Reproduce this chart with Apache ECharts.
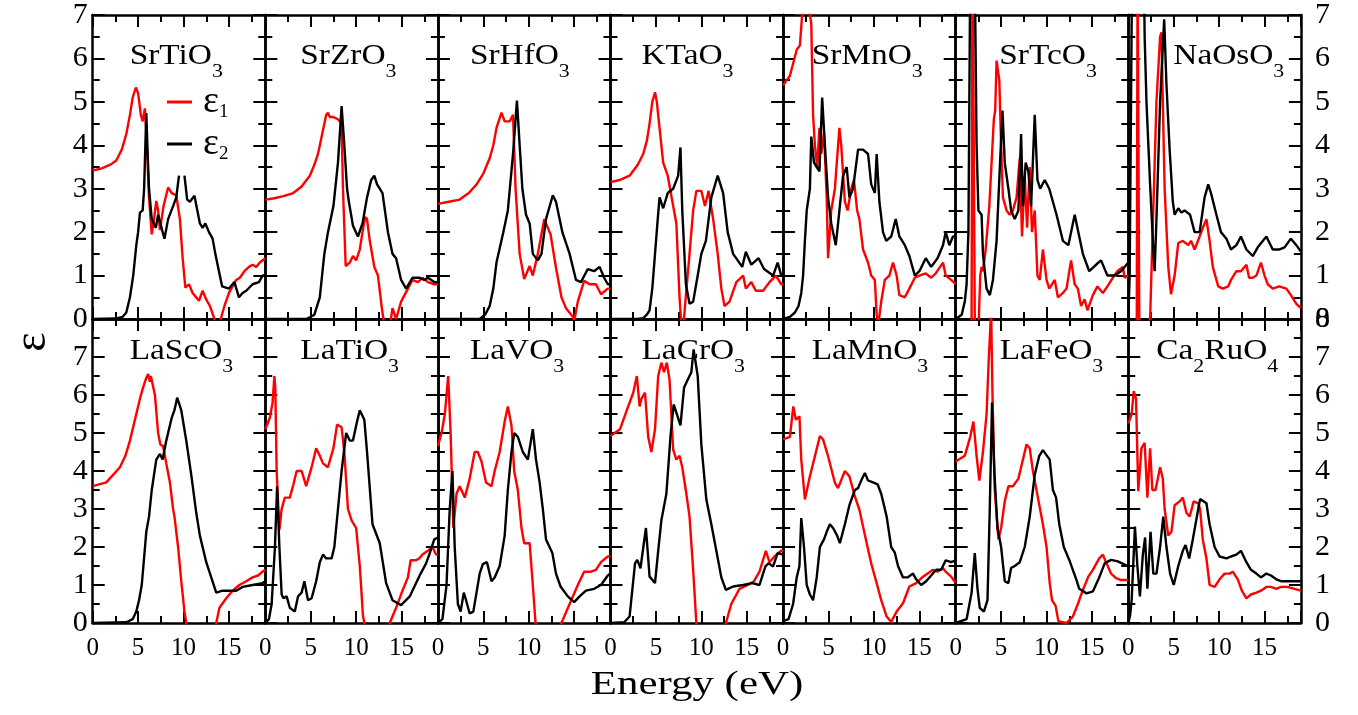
<!DOCTYPE html>
<html><head><meta charset="utf-8">
<script src="https://cdn.jsdelivr.net/npm/echarts@6/dist/echarts.min.js"></script>
<style>html,body{margin:0;padding:0;background:#fff}#c{width:1358px;height:715px}</style>
</head><body><div id="c"></div>
<script>
// ---- tick labels ----
const energyTicks = [0, 5, 10, 15];
const epsTicksTop = [0, 1, 2, 3, 4, 5, 6, 7];
const epsTicksBottom = [0, 1, 2, 3, 4, 5, 6, 7, 8];
const energyMax = 19;

// ---- panel names (rich-text markup for subscripts) ----
const topNames = ['{m|SrTiO}{s|3}', '{m|SrZrO}{s|3}', '{m|SrHfO}{s|3}', '{m|KTaO}{s|3}', '{m|SrMnO}{s|3}', '{m|SrTcO}{s|3}', '{m|NaOsO}{s|3}'];
const bottomNames = ['{m|LaScO}{s|3}', '{m|LaTiO}{s|3}', '{m|LaVO}{s|3}', '{m|LaCrO}{s|3}', '{m|LaMnO}{s|3}', '{m|LaFeO}{s|3}', '{m|Ca}{s|2}{m|RuO}{s|4}'];

// ---- data: [energy (eV), epsilon] ----
const SrTiO3_e1 = [[0,3.42],[1,3.47],[2,3.56],[2.6,3.65],[3.2,3.9],[3.7,4.26],[4.1,4.7],[4.4,5.1],[4.75,5.33],[5.0,5.2],[5.3,4.7],[5.5,4.55],[5.74,4.85],[5.9,4.3],[6.2,2.8],[6.5,1.95],[6.75,2.3],[7.0,2.72],[7.2,2.5],[7.4,2.05],[7.8,2.6],[8.3,3.03],[8.7,2.9],[9.2,2.85],[9.6,2.3],[9.9,1.4],[10.2,0.72],[10.6,0.8],[11.0,0.6],[11.7,0.42],[12.1,0.65],[12.5,0.45],[12.9,0.3],[13.4,0],[13.7,-0.4],[14.1,0],[14.5,0.3],[15,0.6],[15.4,0.75],[15.8,0.9],[16.2,0.95],[16.7,1.1],[17.2,1.2],[17.6,1.25],[18.0,1.2],[18.4,1.3],[19,1.4]];
// the part of this curve above ~3.3 near 9.8 eV is hidden behind the legend box in the original
const SrTiO3_e2 = [[0,0],[2.5,0.01],[3.3,0.05],[3.7,0.15],[4.1,0.5],[4.46,1.0],[4.8,1.7],[5.0,2.0],[5.2,2.45],[5.5,2.5],[5.66,3.0],[5.9,4.74],[6.05,3.8],[6.2,3.0],[6.5,2.3],[6.95,2.1],[7.2,2.4],[7.4,2.4],[7.7,2.0],[7.9,1.85],[8.3,2.3],[8.85,2.6],[9.2,2.8],[9.5,3.3],[9.8,'-'],[10.1,3.3],[10.4,2.75],[10.7,2.7],[11.2,2.84],[11.8,2.2],[12.1,2.1],[12.4,2.2],[12.8,2.0],[13.2,1.85],[13.5,1.5],[13.8,1.2],[14.25,0.75],[15.0,0.7],[15.6,0.85],[16.1,0.5],[16.5,0.6],[16.9,0.65],[17.6,0.8],[18.3,0.85],[18.7,1.0],[19,1.0]];

const SrZrO3_e1 = [[0,2.75],[1,2.78],[2,2.83],[3.07,2.9],[4,3.05],[4.9,3.3],[5.4,3.55],[5.8,3.8],[6.1,4.1],[6.4,4.4],[6.7,4.7],[6.9,4.75],[7.1,4.65],[7.5,4.65],[8.0,4.6],[8.4,4.5],[8.55,3.0],[8.85,1.22],[9.3,1.3],[9.65,1.45],[10.0,1.35],[10.4,1.6],[10.7,2.0],[11.0,2.35],[11.2,2.3],[11.5,1.8],[12.0,1.2],[12.4,1.0],[12.8,0.3],[13.0,0],[13.5,-0.5],[14.0,0.25],[14.4,0],[14.95,0.4],[15.7,0.7],[16.2,0.9],[16.8,0.85],[17.3,0.95],[17.9,0.85],[18.6,0.8],[19,0.8]];
const SrZrO3_e2 = [[0,0],[4.5,0],[5.0,0.05],[5.4,0.1],[6.0,0.5],[6.3,1.1],[6.5,1.5],[6.9,2.0],[7.5,2.6],[8.0,3.6],[8.4,4.9],[8.7,4.0],[9.0,3.0],[9.2,2.7],[9.65,2.15],[10.2,1.9],[10.7,2.2],[11.2,2.8],[11.65,3.2],[12.0,3.3],[12.3,3.1],[12.6,3.0],[12.9,2.9],[13.5,2.0],[14.0,1.5],[14.4,1.4],[14.95,0.9],[15.5,0.7],[16.2,0.95],[17.0,0.95],[17.5,0.9],[17.9,0.95],[18.6,0.85],[19,0.85]];

const SrHfO3_e1 = [[0,2.65],[1.2,2.7],[2.4,2.75],[3.4,2.9],[4.26,3.1],[5.0,3.35],[5.7,3.7],[6.1,4.0],[6.45,4.4],[7.0,4.75],[7.35,4.55],[7.9,4.55],[8.27,4.7],[8.55,3.0],[9.0,1.5],[9.5,0.92],[10.1,1.22],[10.45,1.0],[11.0,1.5],[11.7,2.3],[12.4,1.95],[13.0,1.18],[13.6,0.5],[14.1,0.25],[14.85,0.05],[15.0,-0.05],[15.4,0.4],[16.1,0.88],[16.7,0.8],[17.4,0.8],[17.95,0.57],[18.7,0.7],[19,0.7]];
const SrHfO3_e2 = [[0,0],[4.6,0],[5.2,0.1],[5.7,0.3],[6.1,0.7],[6.45,1.3],[7.2,2.0],[7.7,2.5],[8.27,3.8],[8.7,5.03],[9.0,4.0],[9.3,3.0],[9.7,2.4],[10.1,2.2],[10.45,1.5],[11.0,1.35],[11.4,1.5],[11.9,2.3],[12.65,2.85],[13.0,2.7],[13.7,2.0],[14.5,1.5],[15.2,0.9],[15.75,0.85],[16.5,1.15],[17.2,1.1],[17.8,1.2],[18.3,0.95],[18.7,0.8],[19,0.8]];

const KTaO3_e1 = [[0,3.15],[1,3.2],[2.1,3.3],[3,3.55],[3.6,3.8],[4.0,4.1],[4.3,4.5],[4.6,5.0],[4.9,5.22],[5.1,5.0],[5.35,4.5],[5.8,3.6],[6.3,3.3],[6.9,2.6],[7.25,2.2],[7.6,0.5],[7.9,-0.5],[8.2,0.3],[8.7,1.5],[9.1,2.5],[9.45,2.95],[10.0,2.95],[10.4,2.6],[10.8,2.95],[11.3,2.3],[11.8,1.5],[12.2,0.7],[12.55,0.3],[13.1,0.4],[13.85,0.85],[14.6,1.0],[14.9,0.7],[15.5,0.85],[16.0,0.65],[16.8,0.65],[17.5,0.85],[18.2,1.0],[18.8,0.8],[19,0.8]];
const KTaO3_e2 = [[0,0],[3.0,0],[3.6,0.02],[4.0,0.1],[4.3,0.2],[4.6,0.7],[4.9,1.5],[5.2,2.3],[5.4,2.8],[5.8,2.55],[6.3,2.9],[6.9,3.0],[7.45,3.3],[7.7,3.95],[7.9,2.5],[8.3,0.8],[8.7,0.35],[9.1,0.4],[9.6,1.0],[10.0,1.5],[10.5,1.8],[11.1,2.8],[11.8,3.3],[12.4,2.9],[12.9,2.0],[13.5,1.5],[14.0,1.35],[14.5,1.2],[14.9,1.55],[15.5,1.25],[16.3,1.4],[16.9,1.15],[17.9,1.0],[18.4,1.3],[18.8,1.0],[19,1.0]];

const SrMnO3_e1 = [[0,5.38],[0.75,5.6],[1.5,6.2],[1.85,6.3],[2.2,7.3],[2.75,7.3],[3.1,6.8],[3.3,4.7],[3.5,4.0],[3.75,3.5],[4.0,4.4],[4.2,3.8],[4.5,4.3],[4.8,2.8],[4.95,1.4],[5.3,2.5],[5.7,3.0],[6.2,4.4],[6.4,4.0],[6.8,2.7],[7.1,2.5],[7.5,3.0],[7.8,3.2],[8.15,2.5],[8.4,2.3],[8.8,1.6],[9.35,1.3],[9.7,1.0],[10.1,0.9],[10.3,0.1],[10.5,-0.1],[10.8,0.4],[11.2,0.9],[11.7,1.0],[12.1,1.3],[12.5,1.0],[12.8,0.55],[13.4,0.5],[13.9,0.7],[14.5,0.95],[15.0,1.0],[15.7,1.05],[16.3,0.95],[16.8,1.05],[17.6,1.3],[17.9,1.0],[18.5,0.9],[19,0.8]];
const SrMnO3_e2 = [[0,0],[0.75,0.05],[1.3,0.15],[1.7,0.3],[2.0,0.6],[2.2,1.0],[2.4,1.8],[2.6,2.5],[2.95,3.0],[3.1,4.2],[3.4,3.6],[3.7,3.5],[4.0,3.4],[4.3,5.1],[4.6,4.0],[4.95,2.8],[5.3,2.2],[5.8,1.7],[6.2,2.5],[6.6,3.3],[7.0,3.5],[7.3,2.8],[7.7,3.0],[8.25,3.9],[8.8,3.9],[9.35,3.8],[9.7,3.1],[10.1,2.9],[10.3,3.8],[10.6,2.7],[11.0,2.0],[11.35,1.8],[11.9,1.9],[12.4,2.3],[12.8,1.9],[13.4,1.7],[13.9,1.45],[14.5,1.0],[15.0,1.1],[15.7,1.4],[16.3,1.2],[17.0,1.4],[17.6,1.7],[17.9,2.0],[18.3,1.7],[18.7,1.9],[19,1.9]];

const SrTcO3_e1 = [[0,-6],[1.6,-2],[1.75,0],[1.85,9],[2.0,9],[2.1,0],[2.3,-3],[2.55,0],[2.7,1.0],[2.85,1.2],[3.0,1.1],[3.3,1.6],[3.7,2.6],[4.0,3.8],[4.2,4.6],[4.35,4.8],[4.5,5.95],[4.8,5.5],[5.0,4.0],[5.2,2.8],[5.6,2.5],[5.95,2.4],[6.3,2.5],[6.7,2.8],[7.05,3.7],[7.3,1.9],[7.6,3.3],[7.86,2.1],[8.15,3.5],[8.4,2.0],[8.7,2.5],[9.0,1.0],[9.25,0.9],[9.6,1.6],[10.0,0.9],[10.3,0.7],[10.9,0.9],[11.25,0.5],[11.8,0.6],[12.2,0.7],[12.7,1.35],[13.1,0.8],[13.45,0.7],[13.8,0.3],[14.2,0.45],[14.5,0.2],[15.1,0.55],[15.6,0.75],[16.2,0.6],[16.7,0.75],[17.3,0.95],[17.8,1.1],[18.4,1.2],[18.6,0.95],[19,1.0]];
const SrTcO3_e2 = [[0,0],[0.66,0.1],[1.0,0.4],[1.2,0.8],[1.4,2.0],[1.6,8],[2.1,8],[2.3,4.0],[2.5,2.5],[2.85,2.4],[3.0,1.5],[3.4,0.7],[3.76,0.55],[4.1,0.9],[4.5,1.8],[4.86,3.5],[5.15,4.8],[5.4,3.6],[5.8,3.0],[6.1,2.5],[6.5,2.3],[6.9,2.5],[7.2,4.26],[7.4,2.6],[7.7,3.6],[8.0,3.4],[8.3,2.6],[8.7,4.7],[9.0,3.2],[9.3,3.0],[9.8,3.2],[10.3,3.0],[11.1,2.4],[11.8,1.8],[12.4,1.7],[13.1,2.4],[13.5,2.0],[14.0,1.5],[14.7,1.1],[15.5,1.26],[16.0,1.35],[16.7,1.0],[17.5,1.0],[18.2,1.1],[19,1.3]];

const NaOsO3_e1 = [[0,-10],[0.9,-3],[1.02,8],[1.18,8],[1.28,-3],[2.0,-3],[2.3,-0.5],[2.4,0],[2.75,2.5],[3.1,5.0],[3.5,6.5],[3.65,6.6],[3.8,5.0],[4.0,3.0],[4.4,1.2],[4.7,0.57],[5.1,1.0],[5.5,1.75],[6.0,1.8],[6.6,1.7],[6.9,1.8],[7.3,1.6],[7.85,1.9],[8.2,2.1],[8.6,2.3],[8.95,1.8],[9.3,1.2],[9.9,0.75],[10.4,0.7],[11.0,0.75],[11.3,0.9],[11.9,1.1],[12.4,1.1],[13.0,1.25],[13.3,0.95],[13.7,0.95],[14.1,1.0],[14.6,1.3],[15.0,1.0],[15.35,0.8],[15.9,0.7],[16.6,0.75],[17.4,0.7],[17.9,0.55],[18.5,0.35],[19,0.25]];
const NaOsO3_e2 = [[0,0],[0.15,1.0],[0.3,5.0],[0.45,9],[1.65,9],[1.8,6.5],[2.0,5.0],[2.4,3.1],[2.75,1.6],[2.9,1.1],[3.1,2.3],[3.5,5.0],[3.95,6.9],[4.2,5.4],[4.55,3.9],[4.9,2.7],[5.1,2.4],[5.5,2.55],[5.85,2.45],[6.2,2.5],[6.8,2.4],[7.3,2.0],[7.85,2.0],[8.4,2.8],[8.8,3.1],[9.1,2.9],[9.7,2.4],[10.2,2.0],[10.8,1.85],[11.3,1.6],[11.9,1.7],[12.4,1.9],[13.0,1.6],[13.7,1.45],[14.25,1.65],[15.2,1.9],[15.9,1.6],[16.6,1.6],[17.2,1.65],[17.9,1.85],[18.5,1.7],[19,1.55]];

const LaScO3_e1 = [[0,3.6],[1.5,3.7],[3.0,4.1],[3.6,4.4],[4.1,4.8],[4.8,5.5],[5.2,5.9],[5.55,6.2],[5.9,6.45],[6.1,6.55],[6.3,6.35],[6.4,6.5],[6.6,6.5],[6.85,6.0],[7.2,5.0],[7.45,4.7],[7.75,4.65],[8.1,4.2],[8.5,3.7],[8.85,3.0],[9.0,2.8],[9.4,2.0],[9.75,1.1],[10.1,0.3],[10.3,0],[11,-1],[13,-0.5],[13.6,0],[13.95,0.4],[14.7,0.65],[15.4,0.85],[16.15,1.0],[16.9,1.1],[17.6,1.2],[18.2,1.25],[18.7,1.35],[19,1.4]];
const LaScO3_e2 = [[0,0],[3.7,0.02],[4.4,0.1],[4.8,0.3],[5.1,0.6],[5.4,1.0],[5.9,2.4],[6.2,2.8],[6.5,3.5],[7.0,4.3],[7.4,4.45],[7.7,4.3],[8.1,4.8],[8.7,5.4],[9.0,5.6],[9.3,5.93],[9.75,5.6],[10.3,4.8],[10.85,3.9],[11.4,2.9],[11.8,2.3],[12.5,1.6],[13.05,1.2],[13.6,0.8],[14.3,0.85],[15.1,0.85],[15.8,0.85],[16.5,0.95],[17.6,1.0],[18.7,1.05],[19,1.1]];

const LaTiO3_e1 = [[0,5.1],[0.5,5.4],[0.8,5.8],[1.0,6.5],[1.1,6.2],[1.25,4.0],[1.55,2.45],[1.8,3.0],[2.15,3.3],[2.7,3.3],[3.1,3.65],[3.45,4.0],[4.0,4.0],[4.5,3.6],[5.1,4.1],[5.6,4.6],[6.0,4.4],[6.35,4.2],[6.9,4.1],[7.5,4.6],[7.9,5.22],[8.4,5.15],[8.7,4.5],[9.1,3.0],[9.5,2.7],[10.0,2.5],[10.4,1.5],[10.75,0.2],[10.9,0],[12,-1],[13.4,-0.3],[13.7,0],[14.4,0.4],[15.1,0.85],[15.7,1.2],[16.0,1.65],[16.6,1.65],[16.95,1.7],[17.3,1.8],[17.9,1.9],[18.4,2.0],[18.8,1.8],[19,1.8]];
const LaTiO3_e2 = [[0,0],[0.4,0.1],[0.7,0.5],[1.06,2.0],[1.3,3.6],[1.55,2.0],[1.8,0.75],[2.0,0.65],[2.35,0.7],[2.7,0.4],[3.25,0.3],[3.6,0.7],[4.0,0.8],[4.3,1.1],[4.7,0.6],[5.1,0.65],[5.6,1.1],[6.0,1.6],[6.35,1.8],[6.7,1.7],[7.3,1.7],[7.6,2.0],[8.0,3.0],[8.4,4.0],[8.9,5.0],[9.3,4.8],[9.65,4.8],[10.1,5.3],[10.4,5.6],[10.9,5.35],[11.2,4.5],[11.8,2.6],[12.6,2.1],[13.3,1.05],[14.0,0.6],[14.95,0.47],[15.9,0.7],[16.6,1.05],[17.1,1.3],[17.7,1.57],[18.05,1.8],[18.6,2.2],[19,2.25]];

const LaVO3_e1 = [[0,4.65],[0.4,5.0],[0.77,5.5],[1.13,6.5],[1.4,5.0],[1.7,2.5],[2.05,3.4],[2.4,3.6],[2.96,3.3],[3.5,3.8],[4.05,4.5],[4.4,4.5],[4.8,4.25],[5.3,3.7],[5.9,3.6],[6.25,4.0],[6.8,4.5],[7.35,5.3],[7.7,5.7],[8.1,5.2],[8.4,4.0],[8.8,3.5],[9.2,2.5],[9.5,2.1],[10.1,2.1],[10.45,1.0],[10.75,0],[12,-1],[13.6,0],[14.5,0.5],[15.4,1.0],[16.1,1.35],[16.85,1.35],[17.4,1.4],[17.95,1.6],[18.7,1.75],[19,1.75]];
const LaVO3_e2 = [[0,0],[0.5,0.1],[0.95,1.0],[1.3,3.0],[1.6,4.0],[1.85,2.0],[2.2,0.5],[2.5,0.3],[2.85,0.8],[3.1,0.6],[3.5,0.25],[3.9,0.3],[4.25,0.8],[4.6,1.3],[4.95,1.55],[5.4,1.6],[5.9,1.1],[6.25,1.2],[6.8,1.5],[7.35,2.3],[7.7,3.5],[8.1,4.5],[8.4,5.0],[8.8,4.9],[9.35,4.5],[9.9,4.3],[10.45,5.1],[10.8,4.3],[11.2,3.7],[11.55,3.0],[11.9,2.2],[12.6,1.84],[13.0,1.3],[13.5,0.96],[14.3,0.7],[15.0,0.55],[15.6,0.7],[16.3,0.85],[17.2,0.9],[17.95,1.0],[18.7,1.25],[19,1.3]];

const LaCrO3_e1 = [[0,4.92],[1.05,5.1],[1.8,5.6],[2.5,6.06],[2.9,6.5],[3.2,5.7],[3.4,5.9],[3.8,6.06],[4.15,4.9],[4.5,4.5],[4.9,5.1],[5.25,6.5],[5.6,6.85],[5.9,6.6],[6.2,6.85],[6.5,6.4],[6.9,4.56],[7.25,4.3],[7.6,4.4],[7.9,4.1],[8.35,3.4],[8.7,2.8],[9.1,1.4],[9.45,0],[11,-1],[12.5,-0.2],[12.7,0],[13.3,0.5],[14.2,0.9],[15.1,1.0],[15.8,1.1],[16.4,1.35],[17.1,1.9],[17.5,1.6],[18.05,1.75],[18.75,1.9],[19,1.9]];
const LaCrO3_e2 = [[0,0],[1.5,0.02],[2.1,0.17],[2.7,1.57],[2.95,1.66],[3.3,1.44],[3.9,2.5],[4.3,1.22],[4.9,1.05],[5.25,1.9],[5.6,2.7],[6.15,3.4],[6.6,4.9],[6.95,5.75],[7.3,5.5],[7.7,5.2],[8.1,6.2],[8.5,6.4],[8.9,6.6],[9.15,7.2],[9.6,6.5],[10.0,4.7],[10.55,3.25],[11.1,2.6],[11.65,1.9],[12.2,1.2],[12.7,0.87],[13.5,0.96],[14.6,1.0],[15.6,1.05],[16.4,1.0],[17.05,1.49],[17.4,1.57],[17.9,1.49],[18.4,1.84],[19,1.8]];

const LaMnO3_e1 = [[0,4.83],[0.75,4.9],[1.12,5.7],[1.4,5.35],[1.8,5.44],[2.0,4.3],[2.4,3.25],[2.95,3.86],[3.5,4.39],[4.05,4.92],[4.4,4.83],[4.95,4.39],[5.7,3.69],[6.05,3.55],[6.8,4.0],[7.3,3.86],[7.9,3.33],[8.4,2.98],[9.2,2.1],[9.7,1.57],[10.3,1.05],[10.8,0.6],[11.4,0.17],[11.9,0.03],[12.5,0.3],[13.2,0.52],[13.9,0.96],[14.65,1.05],[15.4,1.22],[16.5,1.4],[17.0,1.35],[17.6,1.44],[17.9,1.35],[18.5,1.22],[19,1.05]];
const LaMnO3_e2 = [[0,0.05],[0.6,0.1],[1.1,0.5],[1.5,1.2],[1.8,1.5],[2.0,2.76],[2.3,2.0],[2.6,1.0],[2.95,0.75],[3.3,0.6],[3.7,1.2],[4.05,2.0],[4.5,2.2],[4.8,2.4],[5.15,2.6],[5.5,2.5],[5.95,2.3],[6.25,2.1],[6.8,2.6],[7.3,3.1],[7.9,3.5],[8.25,3.55],[8.6,3.75],[9.0,3.95],[9.35,3.75],[9.9,3.7],[10.4,3.65],[10.8,3.4],[11.4,2.8],[11.9,2.0],[12.3,1.85],[12.65,1.5],[13.2,1.2],[13.7,1.2],[14.3,1.3],[14.65,1.15],[15.2,1.0],[15.75,1.1],[16.3,1.25],[16.85,1.4],[17.4,1.4],[17.9,1.65],[18.5,1.6],[19,1.65]];

const LaFeO3_e1 = [[0,4.25],[1.0,4.4],[1.6,4.9],[1.95,5.3],[2.3,4.4],[2.6,3.75],[3.0,4.5],[3.4,5.5],[3.65,7.0],[3.9,8.2],[4.05,6.0],[4.3,3.5],[4.7,2.2],[5.0,2.5],[5.4,3.2],[5.8,3.6],[6.3,3.6],[6.9,3.8],[7.2,4.1],[7.8,4.7],[8.15,4.6],[8.5,4.0],[9.05,3.3],[9.6,2.6],[10.0,2.0],[10.35,1.05],[10.6,0.6],[11.0,0.45],[11.3,0.05],[12.2,0],[12.9,0.17],[13.45,0.5],[14.0,0.87],[14.6,1.22],[15.1,1.4],[15.8,1.7],[16.2,1.8],[16.6,1.57],[17.1,1.3],[17.65,1.18],[18.2,1.13],[19,1.13]];
const LaFeO3_e2 = [[0,0],[1.2,0.1],[1.75,0.8],[2.1,1.84],[2.4,0.9],[2.65,0.4],[3.1,0.3],[3.5,0.6],[3.75,3.0],[4.0,5.8],[4.25,4.0],[4.6,2.5],[5.0,2.0],[5.4,1.1],[5.8,1.05],[6.1,1.45],[6.5,1.5],[7.05,1.6],[7.6,2.0],[8.15,2.8],[8.7,3.9],[9.2,4.4],[9.6,4.55],[10.35,4.3],[10.7,3.5],[11.05,3.3],[11.4,2.6],[11.9,2.0],[12.5,1.66],[13.3,1.13],[13.6,0.9],[14.4,0.78],[15.1,0.83],[15.8,1.2],[16.4,1.57],[17.1,1.66],[17.85,1.62],[19,1.49]];

const Ca2RuO4_e1 = [[0,5.25],[0.37,5.5],[0.6,6.1],[0.85,5.9],[1.1,3.47],[1.45,4.6],[1.8,4.74],[2.1,3.3],[2.4,4.6],[2.65,3.5],[3.0,3.5],[3.5,4.1],[3.8,3.8],[4.0,3.0],[4.4,2.3],[4.75,2.4],[5.1,3.1],[5.65,3.2],[6.0,3.3],[6.4,2.9],[6.75,2.8],[7.2,3.2],[7.7,3.15],[7.9,3.0],[8.2,2.2],[8.6,1.7],[8.95,1.0],[9.5,0.95],[10.05,1.15],[10.6,1.3],[11.15,1.3],[11.5,1.35],[12.05,1.15],[12.5,0.85],[13.0,0.65],[13.5,0.75],[14.1,0.8],[14.6,0.85],[15.2,0.95],[15.7,0.95],[16.3,0.9],[16.8,0.95],[17.5,0.95],[18.3,0.9],[19,0.85]];
const Ca2RuO4_e2 = [[0,0],[0.2,0.2],[0.37,0.6],[0.73,2.54],[1.0,1.5],[1.28,0.7],[1.6,1.8],[1.85,2.25],[2.1,0.9],[2.45,2.4],[2.75,1.3],[3.1,1.3],[3.5,2.0],[3.85,2.8],[4.2,2.0],[4.6,1.3],[5.0,1.0],[5.5,1.5],[6.0,1.9],[6.3,2.05],[6.7,1.7],[7.1,2.2],[7.7,3.0],[7.9,3.26],[8.6,3.15],[8.95,2.6],[9.5,2.0],[10.05,1.75],[10.8,1.7],[11.3,1.75],[11.9,1.8],[12.4,1.9],[13.0,1.6],[13.5,1.4],[14.1,1.3],[14.6,1.2],[15.2,1.3],[15.7,1.25],[16.3,1.15],[16.8,1.1],[17.7,1.1],[19,1.1]];

const topE1 = [SrTiO3_e1, SrZrO3_e1, SrHfO3_e1, KTaO3_e1, SrMnO3_e1, SrTcO3_e1, NaOsO3_e1];
const topE2 = [SrTiO3_e2, SrZrO3_e2, SrHfO3_e2, KTaO3_e2, SrMnO3_e2, SrTcO3_e2, NaOsO3_e2];
const bottomE1 = [LaScO3_e1, LaTiO3_e1, LaVO3_e1, LaCrO3_e1, LaMnO3_e1, LaFeO3_e1, Ca2RuO4_e1];
const bottomE2 = [LaScO3_e2, LaTiO3_e2, LaVO3_e2, LaCrO3_e2, LaMnO3_e2, LaFeO3_e2, Ca2RuO4_e2];

// ---- layout ----
const FONT = '"Liberation Serif", "Times New Roman", serif';
const GX0 = 92.7, GW = 172.6, GH = 304, ROWTOP = [15, 319];
const titleDX = [[37, 35, 32, 31, 28.6, 43.6, 45], [37, 35, 32, 31, 28.6, 44, 28]];
const titleY = [31.4, 326.1];

const grids = [], xAxes = [], yAxes = [], series = [], graphics = [];
const tickLine = { color: '#000', width: 2 };

function makeX(gi, pos, showLabel) {
  return {
    type: 'value', gridIndex: gi, position: pos, min: 0, max: energyMax, interval: 5,
    axisLine: { show: true, onZero: false, lineStyle: { color: '#000', width: 2.5 } },
    axisTick: { show: true, inside: true, length: 12, lineStyle: tickLine },
    minorTick: { show: true, splitNumber: 2, length: 7, lineStyle: tickLine },
    splitLine: { show: false }, minorSplitLine: { show: false },
    axisLabel: {
      show: showLabel, fontFamily: FONT, fontSize: 25, color: '#000', margin: 13,
      formatter: v => energyTicks.includes(v) ? String(v) : ''
    }
  };
}
function makeY(gi, pos, ymax, showLabel, labels, margin) {
  return {
    type: 'value', gridIndex: gi, position: pos, min: 0, max: ymax, interval: 1,
    axisLine: { show: true, onZero: false, lineStyle: { color: '#000', width: 2.5 } },
    axisTick: { show: true, inside: true, length: 12, lineStyle: tickLine },
    minorTick: { show: true, splitNumber: 2, length: 7, lineStyle: tickLine },
    splitLine: { show: false }, minorSplitLine: { show: false },
    axisLabel: {
      show: showLabel, fontFamily: FONT, fontSize: 30, color: '#000', margin: margin,
      showMinLabel: true, showMaxLabel: true,
      formatter: v => labels.includes(v) ? String(v) : ''
    }
  };
}

const subRich = {
  m: { fontFamily: FONT, fontSize: 29, lineHeight: 50, verticalAlign: 'middle', fill: '#000', color: '#000' },
  s: { fontFamily: FONT, fontSize: 19, lineHeight: 20, verticalAlign: 'bottom', fill: '#000', color: '#000' }
};

for (let r = 0; r < 2; r++) {
  const names = r === 0 ? topNames : bottomNames;
  const e1s = r === 0 ? topE1 : bottomE1;
  const e2s = r === 0 ? topE2 : bottomE2;
  const ymax = r === 0 ? 7 : 8;
  for (let c = 0; c < 7; c++) {
    const gi = r * 7 + c;
    const left = GX0 + c * GW;
    grids.push({ left: left, top: ROWTOP[r], width: GW, height: GH });
    xAxes.push(makeX(gi, 'bottom', r === 1));
    xAxes.push(makeX(gi, 'top', false));
    const leftLabels = r === 0 ? epsTicksTop : epsTicksBottom.slice(0, 8);
    const rightLabels = r === 0 ? epsTicksTop : epsTicksBottom;
    yAxes.push(makeY(gi, 'left', ymax, c === 0, leftLabels, 5));
    yAxes.push(makeY(gi, 'right', ymax, c === 6, rightLabels, 14));
    series.push({
      name: 'e1', type: 'line', xAxisIndex: 2 * gi, yAxisIndex: 2 * gi, data: e1s[c],
      showSymbol: false, symbol: 'none', clip: true, connectNulls: false, color: '#ff0000',
      lineStyle: { color: '#ff0000', width: 2.4 }, z: 2
    });
    series.push({
      name: 'e2', type: 'line', xAxisIndex: 2 * gi, yAxisIndex: 2 * gi, data: e2s[c],
      showSymbol: false, symbol: 'none', clip: true, connectNulls: false, color: '#000000',
      lineStyle: { color: '#000000', width: 2.4 }, z: 3
    });
    graphics.push({
      type: 'text', x: left + titleDX[r][c], y: titleY[r], scaleX: 1.15, z: 10,
      style: { text: names[c], rich: subRich, fontFamily: FONT, fontSize: 29, fill: '#000',
               align: 'left', verticalAlign: 'top', textAlign: 'left', textVerticalAlign: 'top' }
    });
  }
}

graphics.push({
  type: 'text', x: 697, y: 685, scaleX: 1.3, z: 10,
  style: { text: 'Energy (eV)', fontFamily: FONT, fontSize: 33, fill: '#000',
           align: 'center', verticalAlign: 'middle', textAlign: 'center', textVerticalAlign: 'middle' }
});
graphics.push({
  type: 'text', x: 33, y: 342, rotation: Math.PI / 2, z: 10,
  style: { text: 'ε', fontFamily: FONT, fontSize: 46, fill: '#000',
           align: 'center', verticalAlign: 'middle', textAlign: 'center', textVerticalAlign: 'middle' }
});

const chart = echarts.init(document.getElementById('c'), null, { renderer: 'canvas' });
chart.setOption({
  animation: false,
  backgroundColor: '#fff',
  grid: grids,
  xAxis: xAxes,
  yAxis: yAxes,
  series: series,
  legend: {
    data: ['e1', 'e2'], left: 162, top: 78, orient: 'vertical', z: 50,
    padding: [5, 14, 10, 5], itemGap: 3, itemWidth: 25, itemHeight: 3, icon: 'rect',
    backgroundColor: '#fff', selectedMode: false,
    formatter: n => n === 'e1' ? '{e|ε}{s|1}' : '{e|ε}{s|2}',
    textStyle: {
      color: '#000', fontFamily: FONT,
      rich: {
        e: { fontFamily: FONT, fontSize: 38, lineHeight: 40, verticalAlign: 'middle', color: '#000', padding: [0, 0, 0, 6] },
        s: { fontFamily: FONT, fontSize: 19, lineHeight: 18, verticalAlign: 'bottom', color: '#000' }
      }
    }
  },
  graphic: graphics
});
</script>
</body></html>
